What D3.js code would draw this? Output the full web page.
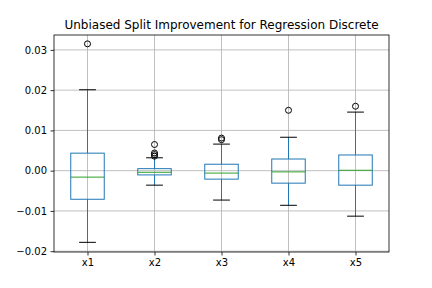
<!DOCTYPE html>
<html>
<head>
<meta charset="utf-8">
<script src="https://cdn.jsdelivr.net/npm/d3@7"></script>
<style>
  body { margin: 0; background: #fff; }
  text { font-family: "DejaVu Sans", sans-serif; }
</style>
</head>
<body>
<div id="root"></div>
<script>
const categories = ['x1', 'x2', 'x3', 'x4', 'x5']
const q1 = [-0.0071, -0.00105, -0.0021, -0.0031, -0.0036]
const medians = [-0.0016, -0.0004, -0.0006, -0.0003, 0.0001]
const q3 = [0.00435, 0.0005, 0.0016, 0.0029, 0.0039]
const whiskLow = [-0.0178, -0.0036, -0.0073, -0.0086, -0.0113]
const whiskHigh = [0.0201, 0.0032, 0.0066, 0.0083, 0.01455]
const outliers = [
  [0.0315],
  [0.0065, 0.0044, 0.0040, 0.0036],
  [0.0081, 0.0077],
  [0.0150],
  [0.0160]
]
const yTicks = [-0.02, -0.01, 0, 0.01, 0.02, 0.03]

const width = 432
const height = 288
const margin = { top: 35, right: 43, bottom: 36, left: 54 }

const svg = d3.select('#root').append('svg')
  .attr('width', width)
  .attr('height', height)

const x = d3.scaleLinear()
  .domain([0.5, 5.5])
  .range([margin.left, width - margin.right])

const y = d3.scaleLinear()
  .domain([-0.0202, 0.0337])
  .range([height - margin.bottom, margin.top])

// grid
const g = svg.append('g')
g.selectAll('.gy')
  .data(yTicks)
  .enter()
  .append('line')
  .attr('x1', margin.left).attr('x2', width - margin.right)
  .attr('y1', d => y(d)).attr('y2', d => y(d))
  .attr('stroke', '#b0b0b0').attr('stroke-width', 0.8)
g.selectAll('.gx')
  .data(categories)
  .enter()
  .append('line')
  .attr('x1', (d, i) => x(i + 1)).attr('x2', (d, i) => x(i + 1))
  .attr('y1', margin.top).attr('y2', height - margin.bottom)
  .attr('stroke', '#b0b0b0').attr('stroke-width', 0.8)

const boxW = x(1.25) - x(1)
const capW = x(1.125) - x(1)

const boxes = svg.append('g')
  .selectAll('g')
  .data(categories)
  .enter()
  .append('g')

boxes.append('line')
  .attr('x1', (d, i) => x(i + 1)).attr('x2', (d, i) => x(i + 1))
  .attr('y1', (d, i) => y(q3[i])).attr('y2', (d, i) => y(whiskHigh[i]))
  .attr('stroke', '#1f77b4')
boxes.append('line')
  .attr('x1', (d, i) => x(i + 1)).attr('x2', (d, i) => x(i + 1))
  .attr('y1', (d, i) => y(q1[i])).attr('y2', (d, i) => y(whiskLow[i]))
  .attr('stroke', '#1f77b4')
boxes.append('line')
  .attr('x1', (d, i) => x(i + 1) - capW).attr('x2', (d, i) => x(i + 1) + capW)
  .attr('y1', (d, i) => y(whiskHigh[i])).attr('y2', (d, i) => y(whiskHigh[i]))
  .attr('stroke', 'black')
boxes.append('line')
  .attr('x1', (d, i) => x(i + 1) - capW).attr('x2', (d, i) => x(i + 1) + capW)
  .attr('y1', (d, i) => y(whiskLow[i])).attr('y2', (d, i) => y(whiskLow[i]))
  .attr('stroke', 'black')
boxes.append('rect')
  .attr('x', (d, i) => x(i + 1) - boxW)
  .attr('width', boxW * 2)
  .attr('y', (d, i) => y(q3[i]))
  .attr('height', (d, i) => y(q1[i]) - y(q3[i]))
  .attr('fill', 'none')
  .attr('stroke', '#1f77b4')
boxes.append('line')
  .attr('x1', (d, i) => x(i + 1) - boxW).attr('x2', (d, i) => x(i + 1) + boxW)
  .attr('y1', (d, i) => y(medians[i])).attr('y2', (d, i) => y(medians[i]))
  .attr('stroke', '#2ca02c')
boxes.each(function (d, i) {
  d3.select(this).selectAll('circle')
    .data(outliers[i])
    .enter()
    .append('circle')
    .attr('cx', x(i + 1))
    .attr('cy', v => y(v))
    .attr('r', 3)
    .attr('fill', 'none')
    .attr('stroke', 'black')
})

// axes
const yAxis = d3.axisLeft(y)
  .tickValues(yTicks)
  .tickSize(3.5)
  .tickPadding(3.5)
  .tickFormat(d => d3.format('.2f')(d).replace('-', '\u2212'))
const xAxis = d3.axisBottom(x)
  .tickValues([1, 2, 3, 4, 5])
  .tickSize(3.5)
  .tickPadding(3.5)
  .tickFormat(d => categories[d - 1])

const ya = svg.append('g')
  .attr('transform', `translate(${margin.left},0)`)
  .call(yAxis)
const xa = svg.append('g')
  .attr('transform', `translate(0,${height - margin.bottom})`)
  .call(xAxis)
for (const a of [ya, xa]) {
  a.select('.domain').remove()
  a.selectAll('text').attr('font-size', 10).attr('fill', 'black')
    .style('font-family', '"DejaVu Sans", sans-serif')
  a.selectAll('line').attr('stroke', 'black').attr('stroke-width', 0.8)
}

svg.append('rect')
  .attr('x', margin.left).attr('y', margin.top)
  .attr('width', width - margin.left - margin.right)
  .attr('height', height - margin.top - margin.bottom)
  .attr('fill', 'none')
  .attr('stroke', 'black')
  .attr('stroke-width', 0.8)

svg.append('text')
  .attr('x', (margin.left + width - margin.right) / 2)
  .attr('y', margin.top - 6)
  .attr('text-anchor', 'middle')
  .attr('font-size', 12)
  .text('Unbiased Split Improvement for Regression Discrete')
</script>
</body>
</html>
